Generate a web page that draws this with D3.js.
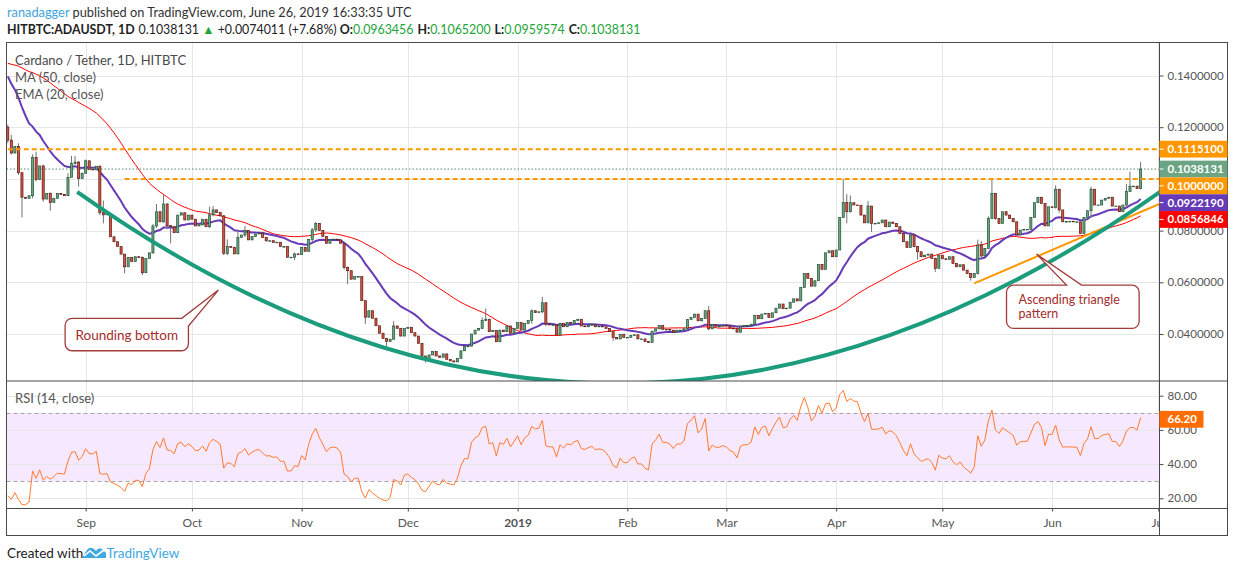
<!DOCTYPE html>
<html>
<head>
<meta charset="utf-8">
<script src="https://cdn.jsdelivr.net/npm/d3@7"></script>
<style>
  body { margin: 0; background: #fff; }
  svg { display: block; font-family: Lato, "Open Sans", sans-serif; }
</style>
</head>
<body>
<svg id="chart" width="1234" height="572"></svg>
<script>
// prices are written in thousandths (115.0 = 0.1150)
const K = 0.001;

// closes before the visible range (Jun 21 - Aug 9 2018), only used to warm up MA / EMA / RSI
const preCloses = [137, 130, 128, 122, 127, 130, 128, 126, 132, 135, 134,
  140, 142, 146, 144, 145, 149, 152, 146, 141, 143, 140, 142, 145, 147, 150, 152, 156, 160, 162,
  166, 170, 175, 172, 176, 170, 168, 164, 160, 158, 152,
  146, 142, 138, 136, 132, 130, 128, 124, 120];

// daily closes, Aug 10 2018 - Jun 26 2019 (open = previous close)
const closes = [
  115.0, 110.0, 112.5, 102.4, 92.9, 92.5, 93.5, 108.3, 99.8, 105.0, 92.2, 94.4, 90.9, 92.5, 94.4, 94.0,
  93.5, 100.6, 106.0, 106.5, 100.1, 102.2,
  107.0, 103.7, 103.5, 104.9, 86.9, 86.1, 86.5, 77.6, 75.7, 73.8, 70.9, 66.0, 69.6, 68.0, 69.9, 69.6,
  63.7, 69.2, 71.4, 81.8, 87.3, 83.4, 90.3, 81.9, 81.5, 79.2, 86.0, 86.9, 84.1, 86.0,
  84.4, 81.8, 82.2, 84.4, 81.5, 86.1, 88.0, 87.0, 85.7, 71.2, 73.8, 73.5, 71.0, 77.4, 78.3, 80.0,
  76.4, 77.7, 78.7, 79.0, 77.4, 76.0, 76.1, 75.4, 75.5, 73.8, 73.8, 69.7, 69.7, 71.0, 70.7,
  73.5, 72.0, 76.6, 80.3, 82.8, 80.0, 77.7, 75.1, 76.4, 76.7, 76.4, 75.1, 65.8, 64.5, 61.2, 62.2,
  62.2, 52.9, 46.5, 49.0, 46.1, 43.2, 40.3, 38.3, 37.1, 38.0, 43.1, 42.2, 39.2, 42.2,
  42.6, 40.5, 39.2, 36.4, 31.5, 30.5, 31.9, 33.2, 31.5, 31.0, 32.3, 30.2, 29.6, 29.2, 30.6, 33.5,
  35.3, 35.3, 40.0, 41.5, 42.2, 45.2, 45.7, 40.9, 41.3, 37.0, 41.5, 40.9, 43.1, 40.3, 42.2,
  44.4, 41.5, 44.1, 45.2, 49.0, 48.3, 48.6, 52.1, 43.9, 43.5, 43.5, 39.6, 44.1, 42.8, 44.4, 44.1,
  45.2, 45.7, 43.1, 42.8, 43.4, 43.7, 42.8, 43.0, 42.8, 42.1, 40.9, 38.7, 38.1, 39.9, 38.7,
  38.7, 39.4, 39.7, 38.1, 38.1, 37.1, 36.7, 41.1, 42.0, 43.3, 41.8, 41.8, 41.5, 40.7, 41.5, 41.5,
  42.0, 45.6, 46.4, 47.7, 45.1, 46.0, 49.0, 42.0, 43.6, 43.0, 43.0, 43.4,
  43.1, 42.3, 42.0, 40.7, 43.0, 43.3, 43.3, 43.8, 47.2, 45.9, 47.7, 48.0, 46.4, 48.2, 50.0, 51.6,
  49.8, 50.0, 52.3, 53.6, 52.8, 58.0, 63.4, 61.5, 58.5, 60.6, 66.9, 65.0, 71.4, 72.2, 69.9,
  72.5, 85.1, 90.9, 87.3, 90.8, 89.9, 89.8, 86.0, 83.0, 89.5, 82.8, 82.8, 83.0, 84.1, 81.5, 83.3,
  82.8, 81.5, 78.9, 75.7, 73.5, 78.3, 73.8, 71.8, 69.9, 70.5, 70.9, 69.2, 65.4, 70.5,
  69.1, 68.9, 69.9, 67.3, 66.0, 66.8, 64.7, 63.4, 61.9, 63.4, 74.4, 70.2, 73.1, 84.7, 94.4, 84.7,
  82.8, 87.3, 86.0, 84.7, 83.4, 78.3, 80.2, 80.5, 80.5, 85.1, 90.8, 92.9, 90.5, 81.8, 89.2,
  89.0, 96.0, 88.0, 83.4, 83.5, 83.6, 83.4, 83.4, 78.9, 85.1, 87.7, 96.0, 89.9, 89.9, 91.8, 92.5,
  92.9, 89.5, 89.5, 87.3, 89.9, 95.1, 97.2, 97.2, 96.3, 103.8
];

// visible wicks: day index -> [high, low] (null = no wick beyond the body)
const wicks = {
  0: [121, 113.8], 1: [117, 109.5], 3: [113.8, 101.5], 4: [100.8, 85.1], 7: [109.5, 92.5],
  8: [110.5, 99], 10: [105.5, 91.2], 12: [94.8, 87.7], 17: [102.2, null], 18: [108.9, null],
  19: [108.9, 105.5], 20: [106.9, 97.0], 22: [107.5, null], 26: [105.2, 86], 27: [91.6, 82.8],
  33: [70.5, 63.5], 38: [70, 62.8], 41: [82.5, 71], 42: [90.3, 81], 44: [93.8, 83], 45: [90.5, 80.5],
  46: [82, 75.1], 57: [89.3, 81], 58: [89.5, 85.5], 61: [86, 70.5], 62: [76.6, 70.5], 65: [80.5, 70.8],
  67: [81.8, 77.5], 81: [71.5, 68.6], 86: [81, 75.5], 87: [83.3, 79.5], 95: [75.5, 65], 96: [66, 59.3],
  101: [53, 43.9], 107: [38.5, 35.1], 109: [45.0, 37.8], 117: [36.5, 31], 118: [31.5, 28.9],
  134: [46.5, 42], 135: [49.9, 45], 148: [49.5, 44], 151: [54.4, 48], 152: [52, 43], 171: [41, 37.4],
  198: [50.8, 41.5], 236: [100.0, 85], 237: [94.1, 82.8], 238: [93.6, 87], 243: [91.5, 83],
  244: [89.5, 79.5], 256: [79.0, 73.5], 257: [74, 68.8], 262: [69.5, 64.0], 272: [63.5, 60.6],
  274: [76.5, 63], 275: [76, 69.5], 277: [85.5, 73], 278: [100.2, 84.5], 279: [94.5, 84.2],
  296: [97.5, 88.5], 297: [96, 87], 306: [97, 85], 316: [98, 89], 317: [102.8, 95], 320: [106.52, 95.96]
};

// last bar as printed in the header and on the scales
const lastOpen = 0.0963456, lastHigh = 0.1065200, lastLow = 0.0959574, lastClose = 0.1038131;
const lastChange = 0.0074011, lastChangePct = 7.68;
const lastMA50 = 0.0856846, lastEMA20 = 0.0922190, lastRSI = 66.20;

// horizontal levels drawn by the author: [price, first day index]
const levels = [[0.11151, 0], [0.10, 33]];
// ascending triangle support: [day index, price]
const triangleSupport = [[273, 0.0596], [325.5, 0.0904]];
// rounding bottom arc: start, lowest point, end as [day index, price]
const roundingArc = [[19.6, 0.0950], [172.4, 0.02085], [325.5, 0.0950]];

const priceTicks = [0.04, 0.06, 0.08, 0.10, 0.12, 0.14];
const rsiTicks = [20, 40, 60, 80];

// ---- layout
const svg = d3.select("#chart");
const L = 6.5, R = 1159, RR = 1227.5, T = 42.5, P1 = 381, P2 = 508.5, B = 535.5;

const day = i => new Date(Date.UTC(2018, 7, 10 + i));
const x = d3.scaleUtc().domain([day(0), day(325)]).range([7.8, 1158.3]);
const xi = i => x(day(0)) + (x(day(1)) - x(day(0))) * i;
const y = d3.scaleLinear().domain([0.04, 0.14]).range([334, 75.5]);
const yr = d3.scaleLinear().domain([20, 80]).range([498.3, 395.7]);

const defs = svg.append("defs");
defs.append("clipPath").attr("id", "pricePane").append("rect")
  .attr("x", L).attr("y", T).attr("width", R - L).attr("height", P1 - T);
defs.append("clipPath").attr("id", "rsiPane").append("rect")
  .attr("x", L).attr("y", P1).attr("width", R - L).attr("height", P2 - P1);
defs.append("clipPath").attr("id", "timeAxis").append("rect")
  .attr("x", L).attr("y", P2).attr("width", R - L).attr("height", B - P2);

// ---- indicators
const all = preCloses.concat(closes);
const n0 = preCloses.length;
const ema = [];
all.forEach((v, i) => { ema.push(i === 0 ? v : v * 2 / 21 + ema[i - 1] * 19 / 21); });
const ma = all.map((v, i) => i < 49 ? null : d3.mean(all.slice(i - 49, i + 1)));
let up = 0, dn = 0;
const rsi = all.map((v, i) => {
  if (i === 0) return null;
  const d = v - all[i - 1];
  const g = Math.max(d, 0), l = Math.max(-d, 0);
  if (i <= 14) { up += g / 14; dn += l / 14; if (i < 14) return null; }
  else { up = (up * 13 + g) / 14; dn = (dn * 13 + l) / 14; }
  return dn === 0 ? 100 : 100 - 100 / (1 + up / dn);
});

const candles = closes.map((c, i) => {
  const o = all[n0 + i - 1];
  const w = wicks[i] || [null, null];
  return {
    i: i, o: o * K, c: c * K,
    h: Math.max(o, c, w[0] || 0) * K,
    l: Math.min(o, c, w[1] || 1e9) * K
  };
});

// ---- grid
const months = d3.utcMonths(day(20), day(326));
const grid = svg.append("g").attr("stroke", "#e6e6e6").attr("stroke-width", 1);
months.forEach(m => {
  grid.append("line").attr("x1", Math.round(x(m)) + 0.5).attr("x2", Math.round(x(m)) + 0.5)
    .attr("y1", T).attr("y2", P2);
});
priceTicks.forEach(p => {
  grid.append("line").attr("x1", L).attr("x2", R).attr("y1", Math.round(y(p)) + 0.5).attr("y2", Math.round(y(p)) + 0.5);
});

// ---- RSI pane
const rsiG = svg.append("g").attr("clip-path", "url(#rsiPane)");
rsiG.append("rect").attr("x", L).attr("width", R - L).attr("y", yr(70)).attr("height", yr(30) - yr(70))
  .attr("fill", "#f5e8ff");
rsiTicks.forEach(v => {
  rsiG.append("line").attr("x1", L).attr("x2", R).attr("y1", Math.round(yr(v)) + 0.5).attr("y2", Math.round(yr(v)) + 0.5)
    .attr("stroke", "#e6e6e6");
});
[70, 30].forEach(v => {
  rsiG.append("line").attr("x1", L).attr("x2", R).attr("y1", Math.round(yr(v)) + 0.5).attr("y2", Math.round(yr(v)) + 0.5)
    .attr("stroke", "#a8a8a8").attr("stroke-dasharray", "4,3");
});
rsiG.append("path")
  .datum(closes.map((c, i) => [i, rsi[n0 + i]]))
  .attr("fill", "none").attr("stroke", "#ff7a2e").attr("stroke-width", 1)
  .attr("d", d3.line().x(d => xi(d[0])).y(d => yr(d[1])));

// ---- price pane
const pane = svg.append("g").attr("clip-path", "url(#pricePane)");

pane.append("line").attr("x1", L).attr("x2", R).attr("y1", y(lastClose)).attr("y2", y(lastClose))
  .attr("stroke", "#4f8f66").attr("stroke-dasharray", "1.5,2").attr("stroke-width", 1);

const lineOf = arr => d3.line().defined(d => d[1] != null).x(d => xi(d[0])).y(d => y(d[1] * K))(arr);
pane.append("path").attr("fill", "none").attr("stroke", "#ff0000").attr("stroke-width", 1)
  .attr("d", lineOf(closes.map((c, i) => [i, ma[n0 + i]])));
pane.append("path").attr("fill", "none").attr("stroke", "#673ab7").attr("stroke-width", 2)
  .attr("d", lineOf(closes.map((c, i) => [i, ema[n0 + i]])));

const cg = pane.append("g");
cg.selectAll(".wick").data(candles).enter().append("line")
  .attr("x1", d => xi(d.i)).attr("x2", d => xi(d.i))
  .attr("y1", d => y(d.h)).attr("y2", d => y(d.l))
  .attr("stroke", "#737375").attr("stroke-width", 1);
cg.selectAll(".body").data(candles).enter().append("rect")
  .attr("x", d => xi(d.i) - 1.05).attr("width", 2.1)
  .attr("y", d => y(Math.max(d.o, d.c)))
  .attr("height", d => Math.max(0.6, y(Math.min(d.o, d.c)) - y(Math.max(d.o, d.c))))
  .attr("fill", d => d.c >= d.o ? "#6ba583" : "#d75442")
  .attr("stroke", d => d.c >= d.o ? "#225437" : "#5b1a13")
  .attr("stroke-width", 0.7);

// drawings
levels.forEach(([p, from]) => {
  pane.append("line").attr("x1", xi(from)).attr("x2", R).attr("y1", y(p)).attr("y2", y(p))
    .attr("stroke", "#ff9800").attr("stroke-width", 2).attr("stroke-dasharray", "5,3");
});
pane.append("line")
  .attr("x1", xi(triangleSupport[0][0])).attr("y1", y(triangleSupport[0][1]))
  .attr("x2", xi(triangleSupport[1][0])).attr("y2", y(triangleSupport[1][1]))
  .attr("stroke", "#ff9800").attr("stroke-width", 2);

const arcPts = roundingArc.map(d => [xi(d[0]), y(d[1])]);
const ctrl = [2 * arcPts[1][0] - (arcPts[0][0] + arcPts[2][0]) / 2, 2 * arcPts[1][1] - (arcPts[0][1] + arcPts[2][1]) / 2];
const arcPath = d3.path();
arcPath.moveTo(arcPts[0][0], arcPts[0][1]);
arcPath.quadraticCurveTo(ctrl[0], ctrl[1], arcPts[2][0], arcPts[2][1]);
pane.append("path").attr("d", arcPath.toString()).attr("fill", "none")
  .attr("stroke", "#1b9c7c").attr("stroke-width", 4);

// callouts: tip in data space, box as offsets from the tip
function callout(tipDay, tipPrice, box, tail, lines) {
  const tx = xi(tipDay), ty = y(tipPrice);
  const x0 = tx + box[0], y0 = ty + box[1], x1 = tx + box[2], y1 = ty + box[3], r = 7;
  const p = d3.path();
  p.moveTo(x0 + r, y0);
  if (tail.side === "top") {
    p.lineTo(tx + tail.a, y0); p.lineTo(tx, ty); p.lineTo(tx + tail.b, y0);
    p.lineTo(x1 - r, y0); p.arcTo(x1, y0, x1, y0 + r, r);
  } else {
    p.lineTo(tx + tail.a, y0); p.lineTo(tx, ty); p.lineTo(x1, ty + tail.b);
  }
  p.lineTo(x1, y1 - r); p.arcTo(x1, y1, x1 - r, y1, r);
  p.lineTo(x0 + r, y1); p.arcTo(x0, y1, x0, y1 - r, r);
  p.lineTo(x0, y0 + r); p.arcTo(x0, y0, x0 + r, y0, r);
  p.closePath();
  svg.append("path").attr("d", p.toString()).attr("fill", "#fff").attr("fill-opacity", 0.9)
    .attr("stroke", "#a33b3b").attr("stroke-width", 1.3);
  const multi = lines.length > 1;
  const t = svg.append("text").attr("fill", "#a52c2c").attr("font-size", multi ? 12.5 : 13.5);
  lines.forEach((s, k) => {
    t.append("tspan").attr("x", multi ? x0 + 12 : (x0 + x1) / 2)
      .attr("y", multi ? y0 + 18.5 + k * 14.5 : (y0 + y1) / 2 + 5)
      .attr("text-anchor", multi ? "start" : "middle").text(s);
  });
}
callout(59.5, 0.0570, [-153.3, 28.3, -30, 60.7], {side: "corner", a: -36.6, b: 36}, ["Rounding bottom"]);
callout(290.6, 0.0709, [-30, 31, 102.6, 74.3], {side: "top", a: 30, b: 45}, ["Ascending triangle", "pattern"]);

// ---- frame
svg.append("rect").attr("x", L).attr("y", T).attr("width", RR - L).attr("height", B - T)
  .attr("fill", "none").attr("stroke", "#4a4a4a");
svg.append("line").attr("x1", R + 0.5).attr("x2", R + 0.5).attr("y1", T).attr("y2", B).attr("stroke", "#4a4a4a");
[P1, P2].forEach(v => svg.append("line").attr("x1", L).attr("x2", RR).attr("y1", v).attr("y2", v).attr("stroke", "#4a4a4a"));

// price scale markers, stacked so they do not overlap
const markers = [
  {v: levels[0][0], color: "#ff9800"},
  {v: lastClose, color: "#6ba583"},
  {v: levels[1][0], color: "#ff9800"},
  {v: lastEMA20, color: "#673ab7"},
  {v: lastMA50, color: "#ff0000"}
].sort((a, b) => b.v - a.v);
const mh = 16.8;
let prev = -1e9;
markers.forEach(m => { m.cy = Math.max(y(m.v), prev + mh); prev = m.cy; });
// a tick label fully hidden behind a marker is not drawn (as on the original scale)
const shownTicks = priceTicks.filter(p => !markers.some(m => Math.abs(m.cy - y(p)) < 9));

// ---- axes
const fmt7 = d3.format(".7f");
svg.append("g").attr("transform", `translate(${R + 0.5},0)`)
  .call(d3.axisRight(y).tickValues(shownTicks).tickFormat(fmt7).tickSize(4).tickPadding(4))
  .call(g => g.select(".domain").remove())
  .call(g => g.selectAll("line").attr("stroke", "#4a4a4a"))
  .call(g => g.selectAll("text").attr("fill", "#555").attr("font-size", 11.5).attr("font-family", "Lato, sans-serif"));
svg.append("g").attr("transform", `translate(${R + 0.5},0)`)
  .call(d3.axisRight(yr).tickValues(rsiTicks).tickFormat(d3.format(".2f")).tickSize(4).tickPadding(4))
  .call(g => g.select(".domain").remove())
  .call(g => g.selectAll("line").attr("stroke", "#4a4a4a"))
  .call(g => g.selectAll("text").attr("fill", "#555").attr("font-size", 11.5).attr("font-family", "Lato, sans-serif"));

svg.append("g").attr("clip-path", "url(#timeAxis)").append("g")
  .attr("transform", `translate(0,${P2})`)
  .call(d3.axisBottom(x).tickValues(months).tickSize(3).tickPadding(7)
    .tickFormat(d => d.getUTCMonth() === 0 ? d3.utcFormat("%Y")(d) : d3.utcFormat("%b")(d)))
  .call(g => g.select(".domain").remove())
  .call(g => g.selectAll("line").attr("stroke", "#4a4a4a"))
  .call(g => g.selectAll("text").attr("fill", "#555").attr("font-size", 12).attr("font-family", "Lato, sans-serif")
    .attr("font-weight", d => d.getUTCMonth() === 0 ? "bold" : null));

markers.forEach(m => {
  svg.append("rect").attr("x", R + 0.5).attr("y", m.cy - mh / 2).attr("width", RR - R - 0.5).attr("height", mh).attr("fill", m.color);
  svg.append("line").attr("x1", R + 0.5).attr("x2", R + 4.5).attr("y1", m.cy).attr("y2", m.cy).attr("stroke", "#fff");
  svg.append("text").attr("x", R + 8.5).attr("y", m.cy + 4).attr("fill", "#fff").attr("font-weight", "bold")
    .attr("font-size", 11.5).attr("font-family", "Lato, sans-serif").text(fmt7(m.v));
});
svg.append("rect").attr("x", R + 0.5).attr("y", yr(lastRSI) - mh / 2).attr("width", 44).attr("height", mh).attr("fill", "#ff6d00");
svg.append("text").attr("x", R + 8.5).attr("y", yr(lastRSI) + 4).attr("fill", "#fff").attr("font-weight", "bold")
  .attr("font-size", 11.5).attr("font-family", "Lato, sans-serif").text(d3.format(".2f")(lastRSI));

// ---- legends
const leg = svg.append("g").attr("fill", "#555").attr("font-size", 13);
leg.append("text").attr("x", 15).attr("y", 65).attr("fill", "#4a4a4a").text("Cardano / Tether, 1D, HITBTC");
leg.append("text").attr("x", 15).attr("y", 82).text("MA (50, close)");
leg.append("text").attr("x", 15).attr("y", 99).text("EMA (20, close)");
leg.append("text").attr("x", 15).attr("y", 403).text("RSI (14, close)");

// ---- header
const h1 = svg.append("text").attr("x", 7).attr("y", 17).attr("font-size", 12.8).attr("fill", "#333");
h1.append("tspan").attr("fill", "#3fa4dc").text("ranadagger");
h1.append("tspan").text(" published on TradingView.com, June 26, 2019 16:33:35 UTC");

const green = "#22a438";
const h2 = svg.append("text").attr("x", 7).attr("y", 34).attr("font-size", 12.4).attr("fill", "#222");
h2.append("tspan").attr("font-weight", "bold").text("HITBTC:ADAUSDT, 1D");
h2.append("tspan").attr("dx", 4).text(fmt7(lastClose) + " ");
h2.append("tspan").attr("fill", green).text("\u25B2");
h2.append("tspan").text(" +" + fmt7(lastChange) + " (+" + lastChangePct.toFixed(2) + "%) ");
[["O:", lastOpen], ["H:", lastHigh], ["L:", lastLow], ["C:", lastClose]].forEach(([k, v], j) => {
  h2.append("tspan").attr("font-weight", "bold").attr("dx", j ? 4 : 0).text(k);
  h2.append("tspan").attr("fill", green).text(fmt7(v));
});

// ---- footer
svg.append("text").attr("x", 7).attr("y", 558).attr("font-size", 13.5).attr("fill", "#222").text("Created with");
svg.append("path")
  .attr("d", "M82,558 L87,550 Q90,546 94,549 L96,551 Q99,546 103,550 L106,553 L106,558 Z")
  .attr("fill", "#41a9e1");
svg.append("path").attr("d", "M84,556 L90,551 L96,556 L104,550")
  .attr("fill", "none").attr("stroke", "#fff").attr("stroke-width", 1.6);
svg.append("text").attr("x", 106.5).attr("y", 558).attr("font-size", 13.5).attr("fill", "#41a9e1").text("TradingView");
</script>
</body>
</html>
